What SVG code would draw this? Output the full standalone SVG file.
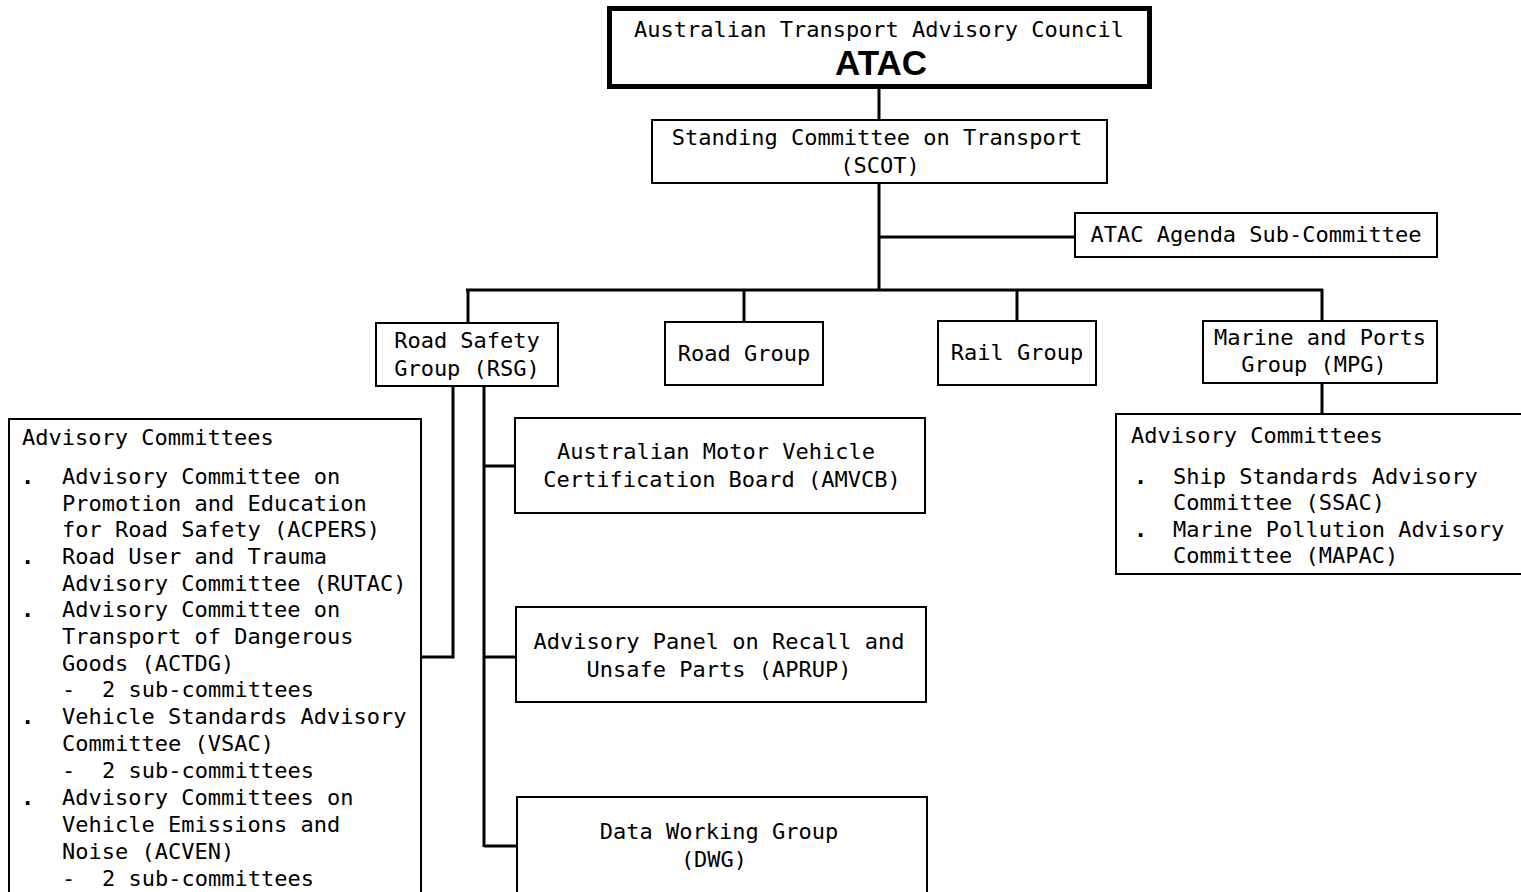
<svg xmlns="http://www.w3.org/2000/svg" width="1521" height="892" viewBox="0 0 1521 892">
<style>
.box{fill:#fff;stroke:#000;stroke-width:2}
.thick{fill:#fff;stroke:#000;stroke-width:5}
.t{font-family:"DejaVu Sans Mono","Liberation Mono",monospace;font-size:22px;fill:#000}
.b{font-family:"DejaVu Sans Mono","Liberation Mono",monospace;font-size:22px;font-weight:bold;fill:#000}
.c{text-anchor:middle}
.big{font-family:"Liberation Sans",Arial,sans-serif;font-weight:bold;font-size:35px;text-anchor:middle;fill:#000}
.conn{fill:none;stroke:#000;stroke-width:3}
</style>
<rect width="1521" height="892" fill="#fff"/>
<g id="connectors">
<line class="conn" x1="879" y1="88" x2="879" y2="120"/>
<line class="conn" x1="879" y1="183" x2="879" y2="290"/>
<line class="conn" x1="879" y1="237" x2="1075" y2="237"/>
<line class="conn" x1="466" y1="290" x2="1323" y2="290"/>
<line class="conn" x1="468" y1="289" x2="468" y2="323"/>
<line class="conn" x1="744" y1="289" x2="744" y2="322"/>
<line class="conn" x1="1017" y1="289" x2="1017" y2="321"/>
<line class="conn" x1="1322" y1="289" x2="1322" y2="321"/>
<line class="conn" x1="1322" y1="383" x2="1322" y2="414"/>
<polyline class="conn" points="453,387 453,657 421,657"/>
<line class="conn" x1="484" y1="387" x2="484" y2="847"/>
<line class="conn" x1="484" y1="466" x2="515" y2="466"/>
<line class="conn" x1="484" y1="657" x2="516" y2="657"/>
<line class="conn" x1="484" y1="846" x2="517" y2="846"/>
</g>
<g id="atac">
<rect class="thick" x="609.5" y="8.5" width="540" height="78"/>
<text class="t c" x="879" y="37">Australian Transport Advisory Council</text>
<text class="big" x="881" y="75">ATAC</text>
</g>
<g id="scot">
<rect class="box" x="652" y="120" width="455" height="63"/>
<text class="t c" x="877" y="145">Standing Committee on Transport</text>
<text class="t c" x="880" y="173">(SCOT)</text>
</g>
<g id="agenda">
<rect class="box" x="1075" y="213" width="362" height="44"/>
<text class="t c" x="1256" y="242">ATAC Agenda Sub-Committee</text>
</g>
<g id="rsg">
<rect class="box" x="376" y="323" width="182" height="63"/>
<text class="t c" x="467" y="348">Road Safety</text>
<text class="t c" x="467" y="376">Group (RSG)</text>
</g>
<g id="road">
<rect class="box" x="665" y="322" width="158" height="63"/>
<text class="t c" x="744" y="361">Road Group</text>
</g>
<g id="rail">
<rect class="box" x="938" y="321" width="158" height="64"/>
<text class="t c" x="1017" y="360">Rail Group</text>
</g>
<g id="mpg">
<rect class="box" x="1203" y="321" width="234" height="62"/>
<text class="t c" x="1320" y="345">Marine and Ports</text>
<text class="t c" x="1314" y="372">Group (MPG)</text>
</g>
<g id="mpg-advisory">
<rect class="box" x="1116" y="414" width="420" height="160"/>
<text class="t" x="1131" y="443">Advisory Committees</text>
<text class="b" x="1134" y="484">.</text>
<text class="t" x="1173" y="484">Ship Standards Advisory</text>
<text class="t" x="1173" y="510">Committee (SSAC)</text>
<text class="b" x="1134" y="537">.</text>
<text class="t" x="1173" y="537">Marine Pollution Advisory</text>
<text class="t" x="1173" y="563">Committee (MAPAC)</text>
</g>
<g id="rsg-advisory">
<rect class="box" x="9" y="419" width="412" height="490"/>
<text class="t" x="22" y="445">Advisory Committees</text>
<text class="b" x="21" y="484">.</text>
<text class="t" x="62" y="484">Advisory Committee on</text>
<text class="t" x="62" y="511">Promotion and Education</text>
<text class="t" x="62" y="537">for Road Safety (ACPERS)</text>
<text class="b" x="21" y="564">.</text>
<text class="t" x="62" y="564">Road User and Trauma</text>
<text class="t" x="62" y="591">Advisory Committee (RUTAC)</text>
<text class="b" x="21" y="617">.</text>
<text class="t" x="62" y="617">Advisory Committee on</text>
<text class="t" x="62" y="644">Transport of Dangerous</text>
<text class="t" x="62" y="671">Goods (ACTDG)</text>
<text class="t" x="62" y="697">-</text>
<text class="t" x="102" y="697">2 sub-committees</text>
<text class="b" x="21" y="724">.</text>
<text class="t" x="62" y="724">Vehicle Standards Advisory</text>
<text class="t" x="62" y="751">Committee (VSAC)</text>
<text class="t" x="62" y="778">-</text>
<text class="t" x="102" y="778">2 sub-committees</text>
<text class="b" x="21" y="805">.</text>
<text class="t" x="62" y="805">Advisory Committees on</text>
<text class="t" x="62" y="832">Vehicle Emissions and</text>
<text class="t" x="62" y="859">Noise (ACVEN)</text>
<text class="t" x="62" y="886">-</text>
<text class="t" x="102" y="886">2 sub-committees</text>
</g>
<g id="amvcb">
<rect class="box" x="515" y="418" width="410" height="95"/>
<text class="t c" x="716" y="459">Australian Motor Vehicle</text>
<text class="t c" x="722" y="487">Certification Board (AMVCB)</text>
</g>
<g id="aprup">
<rect class="box" x="516" y="607" width="410" height="95"/>
<text class="t c" x="719" y="649">Advisory Panel on Recall and</text>
<text class="t c" x="719" y="677">Unsafe Parts (APRUP)</text>
</g>
<g id="dwg">
<rect class="box" x="517" y="797" width="410" height="105"/>
<text class="t c" x="719" y="839">Data Working Group</text>
<text class="t c" x="714" y="867">(DWG)</text>
</g>
</svg>
